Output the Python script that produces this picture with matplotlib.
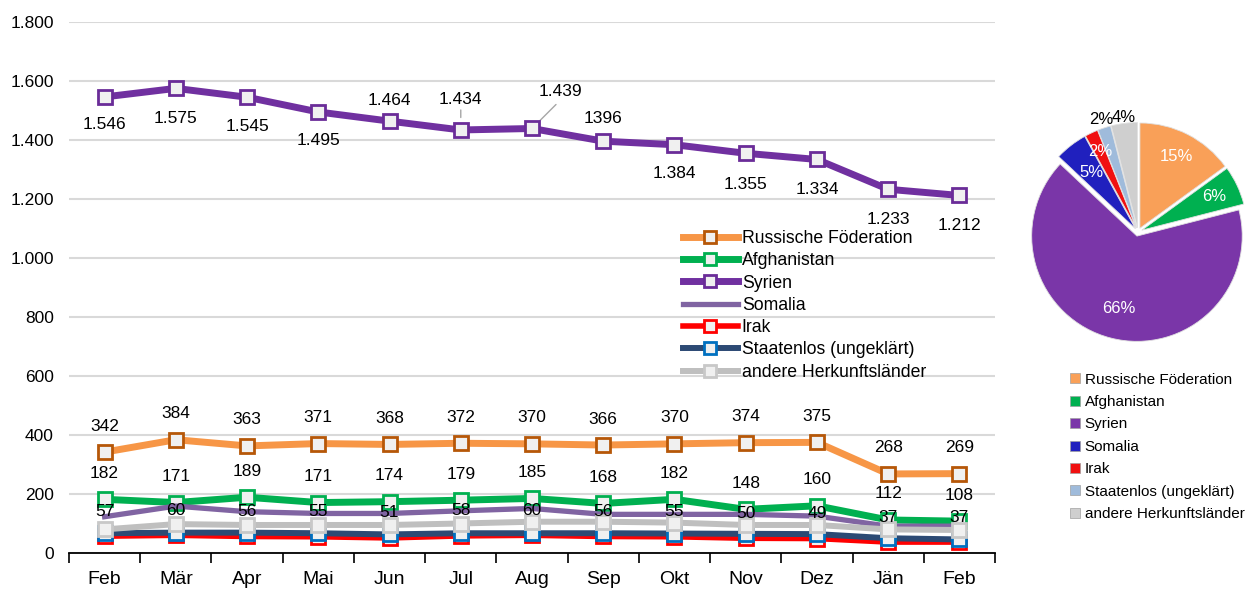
import numpy as np
import matplotlib.pyplot as plt
from matplotlib.lines import Line2D

plt.rcParams['font.family'] = ['Liberation Sans', 'DejaVu Sans']

months = ['Feb', 'Mär', 'Apr', 'Mai', 'Jun', 'Jul', 'Aug', 'Sep', 'Okt', 'Nov', 'Dez', 'Jän', 'Feb']
names = ['Russische Föderation', 'Afghanistan', 'Syrien', 'Somalia', 'Irak',
         'Staatenlos (ungeklärt)', 'andere Herkunftsländer']

russland = [342, 384, 363, 371, 368, 372, 370, 366, 370, 374, 375, 268, 269]
afghanistan = [182, 171, 189, 171, 174, 179, 185, 168, 182, 148, 160, 112, 108]
syrien = [1546, 1575, 1545, 1495, 1464, 1434, 1439, 1396, 1384, 1355, 1334, 1233, 1212]
somalia = [123, 159, 140, 134, 134, 143, 151, 131, 131, 131, 125, 91, 91]
irak = [57, 60, 56, 55, 51, 58, 60, 56, 55, 50, 49, 37, 37]
staatenlos = [67, 69, 69, 67, 63, 67, 67, 67, 66, 65, 64, 50, 46]
andere = [80, 98, 95, 95, 95, 100, 106, 106, 103, 95, 95, 80, 78]

syrien_labels = ['1.546', '1.575', '1.545', '1.495', '1.464', '1.434', '1.439',
                 '1396', '1.384', '1.355', '1.334', '1.233', '1.212']

pie_share = [15, 6, 66, 5, 2, 2, 4]

line_colors = ['#F79646', '#00B050', '#7030A0', '#8064A2', '#FF0000', '#2C4A74', '#BFBFBF']
edge_colors = ['#B65708', '#00B050', '#6A2C98', None, '#FF0000', '#0070C0', '#C8C8C8']
pie_colors = ['#F9A058', '#00B050', '#7A36A8', '#2020BE', '#F01010', '#9FBBDB', '#CFCFCF']

fig = plt.figure(figsize=(12.55, 5.91), dpi=100)
ax = fig.add_axes([69 / 1255, 1 - 553 / 591, 926 / 1255, 531 / 591])

x = np.arange(len(months))
series = [russland, afghanistan, syrien, somalia, irak, staatenlos, andere]
widths = [5, 5, 5, 3.8, 4, 4.3, 4.3]
for i, s in enumerate(series):
    if edge_colors[i] is None:
        ax.plot(x, s, color=line_colors[i], lw=widths[i], label=names[i], zorder=3 + i * 0.1)
    else:
        ax.plot(x, s, color=line_colors[i], lw=widths[i], marker='s', markersize=10,
                markerfacecolor='#F0F0F0', markeredgecolor=edge_colors[i], markeredgewidth=2,
                label=names[i], zorder=3 + i * 0.1)

# data labels
fs = 12.5
for i in range(len(months)):
    ax.annotate(str(russland[i]), (x[i], russland[i]), xytext=(0, 26), textcoords='offset pixels',
                ha='center', va='center', fontsize=fs)
    ax.annotate(str(afghanistan[i]), (x[i], afghanistan[i]), xytext=(0, 26), textcoords='offset pixels',
                ha='center', va='center', fontsize=fs)
    ax.annotate(str(irak[i]), (x[i], irak[i]), xytext=(0, 25), textcoords='offset pixels',
                ha='center', va='center', fontsize=fs, zorder=5)

syr_dy = [-28, -30, -29, -29, 21, 30, 37, 23, -29, -31, -30, -30, -30]
syr_dx = [0, 0, 0, 0, 0, 0, 28, 0, 0, 0, 0, 0, 0]
for i in range(len(months)):
    ax.annotate(syrien_labels[i], (x[i], syrien[i]), xytext=(syr_dx[i], syr_dy[i]),
                textcoords='offset pixels', ha='center', va='center', fontsize=fs)
# leader lines
ax.annotate('', (x[5], syrien[5]), xytext=(0, 20), textcoords='offset pixels',
            arrowprops=dict(arrowstyle='-', color='#A6A6A6', lw=1, shrinkA=0, shrinkB=9))
ax.annotate('', (x[6], syrien[6]), xytext=(24, 24), textcoords='offset pixels',
            arrowprops=dict(arrowstyle='-', color='#A6A6A6', lw=1, shrinkA=0, shrinkB=5))

ax.set_xlim(-0.5, len(months) - 0.5)
ax.set_ylim(0, 1800)
ax.set_yticks(np.arange(0, 1801, 200))
ax.set_yticklabels(['{:,.0f}'.format(v).replace(',', '.') for v in np.arange(0, 1801, 200)])
ax.yaxis.grid(True, color='#D9D9D9', lw=1.5)
ax.set_axisbelow(True)
ax.tick_params(axis='y', length=0, pad=11, labelsize=12.5)
ax.set_xticks(x)
ax.set_xticklabels(months)
ax.set_xticks(np.arange(-0.5, len(months), 1), minor=True)
ax.tick_params(axis='x', which='major', length=0, pad=13, labelsize=14)
ax.tick_params(axis='x', which='minor', length=7, width=1.2, direction='out')
for sp in ['top', 'right', 'left']:
    ax.spines[sp].set_visible(False)
ax.spines['bottom'].set_linewidth(1.3)

ax.legend(loc='upper left', bbox_to_anchor=((683 - 69) / 926, (553 - 230) / 531), frameon=False,
          fontsize=12.7, borderpad=0, borderaxespad=0, labelspacing=0.3, handlelength=3.1,
          handletextpad=0.23, markerscale=0.8)

# pie chart
pax = fig.add_axes([(1138 - 120) / 1255, 1 - (232 + 120) / 591, 240 / 1255, 240 / 591])
wedges, _ = pax.pie(pie_share, colors=pie_colors, startangle=90, counterclock=False,
                    explode=[0.04] * len(pie_share), radius=1,
                    wedgeprops=dict(edgecolor='#E0E0E0', linewidth=0.6))
pax.set_xlim(-1.14, 1.14)
pax.set_ylim(-1.14, 1.14)
pax.set_aspect('equal')
pax.axis('off')

dists = [0.8, 0.8, 0.75, 0.72, 0.85, 1.12, 1.1]
txt_colors = ['white', 'white', 'white', 'white', 'white', 'black', 'black']
for w, d, c, p in zip(wedges, dists, txt_colors, pie_share):
    ang = np.deg2rad((w.theta1 + w.theta2) / 2)
    pax.text(d * np.cos(ang), d * np.sin(ang), '{}%'.format(p), ha='center', va='center',
             color=c, fontsize=12)

handles = [Line2D([], [], marker='s', linestyle='none', markersize=7, markerfacecolor=pie_colors[i],
                  markeredgecolor='#A0A0A0', markeredgewidth=0.5) for i in range(len(names))]
fig.legend(handles, names, loc='upper left', bbox_to_anchor=(1061 / 1255, 1 - 365 / 591),
           frameon=False, fontsize=11, borderpad=0, labelspacing=0.55, handlelength=0.8,
           handletextpad=0.25)

fig.savefig('out.png', dpi=100)
